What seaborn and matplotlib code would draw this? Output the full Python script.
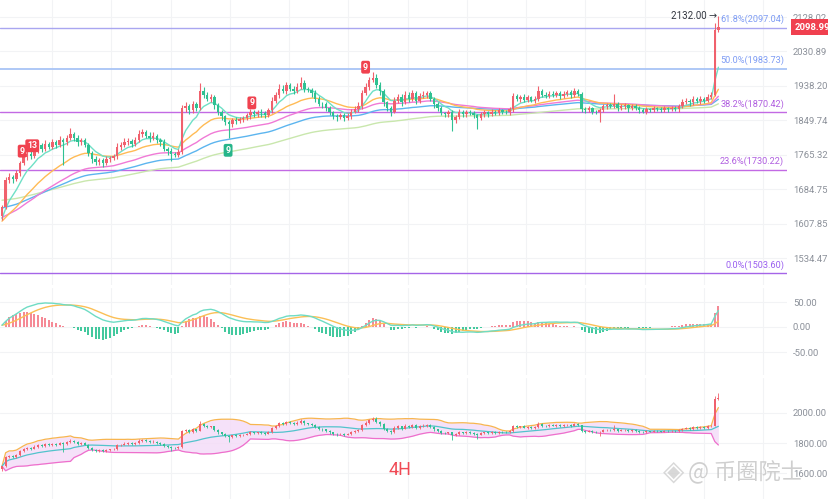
import numpy as np
import pandas as pd
import matplotlib
matplotlib.use("Agg")
import matplotlib.pyplot as plt
import seaborn as sns

# ---------------- data (4H candles) ----------------
first_open = 1625.0
closes = [
    1645, 1705, 1712, 1708, 1722, 1745, 1760, 1768, 1762, 1775,
    1788, 1780, 1792, 1785, 1795, 1790, 1800, 1795, 1805, 1815,
    1805, 1795, 1800, 1790, 1770, 1755, 1748, 1752, 1745, 1755,
    1758, 1762, 1785, 1790, 1795, 1798, 1792, 1800, 1815, 1820,
    1812, 1805, 1810, 1800, 1795, 1780, 1775, 1768, 1765, 1772,
    1880, 1885, 1875, 1890, 1882, 1925, 1915, 1905, 1910, 1888,
    1870, 1860, 1845, 1840, 1850, 1848, 1852, 1855, 1862, 1870,
    1865, 1870, 1868, 1862, 1875, 1898, 1915, 1930, 1925, 1940,
    1930, 1925, 1935, 1945, 1930, 1928, 1920, 1905, 1892, 1890,
    1880, 1870, 1860, 1858, 1862, 1855, 1860, 1872, 1878, 1885,
    1920, 1935, 1955, 1960, 1940, 1925, 1895, 1880, 1872, 1900,
    1910, 1895, 1915, 1905, 1920, 1900, 1912, 1915, 1920, 1905,
    1890, 1880, 1868, 1865, 1870, 1850, 1858, 1870, 1865, 1872,
    1868, 1862, 1855, 1865, 1870, 1866, 1872, 1868, 1875, 1872,
    1870, 1878, 1912, 1905, 1910, 1902, 1908, 1900, 1905, 1925,
    1915, 1912, 1918, 1915, 1920, 1912, 1918, 1922, 1915, 1925,
    1918, 1878, 1875, 1880, 1872, 1870, 1875, 1885, 1888, 1885,
    1890, 1882, 1885, 1888, 1880, 1885, 1882, 1875, 1872, 1878,
    1876, 1880, 1878, 1876, 1880, 1878, 1882, 1878, 1885, 1895,
    1900, 1895, 1905, 1898, 1905, 1900, 1910, 1915, 2090, 2098.99,
]
upper_wick = [
    5, 8, 10, 6, 8, 6, 10, 8, 6, 10,
    8, 6, 10, 5, 8, 6, 10, 6, 8, 15,
    6, 8, 5, 6, 4, 5, 8, 6, 5, 8,
    5, 6, 8, 6, 10, 8, 6, 8, 10, 8,
    6, 8, 10, 5, 6, 8, 5, 6, 4, 6,
    8, 10, 6, 8, 6, 20, 10, 8, 6, 5,
    6, 5, 4, 6, 5, 8, 6, 5, 6, 8,
    6, 5, 8, 5, 6, 10, 8, 12, 10, 8,
    6, 8, 10, 17, 8, 6, 5, 8, 6, 5,
    6, 5, 4, 6, 5, 6, 8, 6, 8, 10,
    8, 10, 8, 15, 10, 8, 6, 5, 6, 10,
    8, 6, 10, 6, 8, 6, 8, 10, 6, 5,
    5, 6, 5, 4, 6, 5, 6, 8, 6, 5,
    5, 6, 4, 6, 5, 4, 6, 5, 6, 4,
    5, 6, 8, 6, 5, 8, 6, 5, 6, 12,
    5, 6, 8, 6, 5, 6, 8, 6, 5, 8,
    5, 4, 6, 5, 4, 5, 6, 5, 6, 5,
    28, 5, 6, 5, 4, 5, 6, 4, 5, 6,
    4, 5, 4, 5, 6, 4, 5, 4, 6, 8,
    6, 5, 8, 5, 6, 5, 8, 6, 20, 33,
]
lower_wick = [
    10, 5, 6, 8, 5, 6, 5, 8, 6, 5,
    6, 8, 5, 6, 5, 8, 6, 55, 6, 5,
    6, 8, 5, 6, 8, 10, 8, 6, 8, 5,
    6, 5, 6, 8, 6, 5, 8, 6, 5, 6,
    6, 8, 5, 6, 8, 6, 10, 18, 6, 5,
    6, 8, 10, 6, 8, 5, 8, 6, 8, 10,
    8, 10, 8, 35, 6, 8, 5, 6, 5, 8,
    6, 8, 10, 6, 5, 6, 5, 8, 6, 8,
    6, 8, 5, 6, 8, 6, 10, 8, 6, 8,
    6, 8, 6, 10, 6, 8, 5, 6, 5, 8,
    6, 5, 8, 6, 8, 10, 8, 6, 12, 5,
    6, 10, 5, 8, 6, 10, 6, 5, 8, 6,
    8, 6, 5, 8, 6, 28, 6, 5, 8, 6,
    5, 6, 27, 5, 6, 8, 5, 6, 5, 6,
    5, 6, 8, 6, 8, 5, 6, 5, 6, 5,
    6, 5, 6, 5, 6, 8, 5, 6, 8, 5,
    5, 8, 6, 5, 6, 5, 25, 5, 6, 5,
    5, 8, 5, 6, 8, 5, 6, 8, 5, 6,
    5, 6, 5, 4, 5, 6, 5, 4, 6, 5,
    5, 8, 6, 5, 8, 6, 5, 6, 4, 5,
]

# moving averages: (span, starting value read at the left edge, colour)
ma_spans = [7, 21, 40, 60, 99]
ma_seeds = [1610, 1610, 1620, 1642, 1660]
ma_colors = ["#6fe0c6", "#ffbb55", "#f07ad6", "#5cb5ef", "#c9e7ad"]
macd_seed = 1600  # EMA12 / EMA26 level at the left edge

fib_levels = [0.618, 0.5, 0.382, 0.236, 0.0]
fib_prices = [2097.04, 1983.73, 1870.42, 1730.22, 1503.60]
fib_line_colors = ["#a9a6f0", "#a8c4f6", "#c26ae4", "#c26ae4", "#a565e8"]
fib_text_colors = ["#7e9cf4", "#7e9cf4", "#b05ee0", "#b05ee0", "#9a5ef0"]

main_ticks = [2128.02, 2030.89, 1938.20, 1849.74, 1765.32, 1684.75, 1607.85, 1534.47]
macd_ticks = [50.0, 0.0, -50.0]
boll_ticks = [2000.0, 1800.0, 1600.0]

# TD-sequential style tags: (candle index, price, text, colour)
tags = [(5.6, 1774, "9", "#f0424f"), (8.4, 1787, "13", "#f0424f"),
        (62.8, 1776, "9", "#26b58a"), (69.4, 1894, "9", "#f0424f"),
        (101.0, 1988, "9", "#f0424f")]
last_price = 2098.99
high_price = 2132.00

# ---------------- derived series ----------------
c = np.array(closes, dtype=float)
n = len(c)
o = np.concatenate([[first_open], c[:-1]])
hi = np.maximum(o, c) + np.array(upper_wick)
lo = np.minimum(o, c) - np.array(lower_wick)
idx = np.arange(n)
up = c >= o

def ema(vals, span, seed=None):
    s = pd.Series(vals if seed is None else np.concatenate([[seed], vals]))
    r = s.ewm(span=span, adjust=False).mean().to_numpy()
    return r if seed is None else r[1:]

mas = [ema(c, s, sd) for s, sd in zip(ma_spans, ma_seeds)]
macd = ema(c, 12, macd_seed) - ema(c, 26, macd_seed)
signal = ema(macd, 9)
hist = 2 * (macd - signal)
cs = pd.Series(c)
mid = cs.rolling(20, min_periods=1).mean().to_numpy()
sd = cs.rolling(20, min_periods=1).std(ddof=0).to_numpy()
ub, lb = mid + 2 * sd, mid - 2 * sd

# ---------------- figure ----------------
sns.set_theme(style="white")
plt.rcParams["font.family"] = ["Roboto", "DejaVu Sans"]
W, H = 829, 499
fig = plt.figure(figsize=(W / 100, H / 100), dpi=100)
fig.patch.set_facecolor("white")

def px_axes(top, bottom, right=787):
    return fig.add_axes([0, 1 - bottom / H, right / W, (bottom - top) / H])

ax1 = px_axes(0, 285)
ax2 = px_axes(288, 375)
ax3 = px_axes(378, 499)

STEP, X0 = 3.6, 2.0
xlim = ((0 - X0) / STEP, (787 - X0) / STEP)
vgrid = [(52 + 59.25 * k - X0) / STEP for k in range(13)]
RED, GREEN = "#f0616d", "#2fc192"
GRID = "#f2f3f5"
TICK = "#8b9099"

for ax in (ax1, ax2, ax3):
    ax.set_xlim(*xlim)
    ax.set_facecolor("white")
    for sp in ax.spines.values():
        sp.set_visible(False)
    ax.set_xticks(vgrid)
    ax.set_xticklabels([])
    ax.tick_params(axis="x", length=0)
    ax.yaxis.tick_right()
    ax.tick_params(axis="y", length=0, pad=4.2, labelsize=6.8, labelcolor=TICK)
    ax.grid(True, color=GRID, linewidth=0.8)
    ax.set_axisbelow(True)

def candles(ax, width, lw):
    cols = np.where(up, RED, GREEN)
    ax.vlines(idx, lo, hi, colors=cols, linewidth=lw, zorder=3)
    body_h = np.abs(c - o)
    body_h = np.where(body_h < 0.8, 0.8, body_h)
    ax.bar(idx, body_h, bottom=np.minimum(o, c), width=width, color=cols,
           linewidth=0, zorder=3)

# ---- main panel ----
ax1.set_yscale("log")
ax1.set_ylim(1479.4, 2177.7)
ax1.set_yticks(main_ticks)
ax1.set_yticklabels([f"{v:.2f}" for v in main_ticks])
ax1.minorticks_off()
for ma, col in zip(mas[::-1], ma_colors[::-1]):
    sns.lineplot(x=idx, y=ma, ax=ax1, color=col, linewidth=1.0, zorder=2)
candles(ax1, 0.62, 0.8)
for lvl, p, lc, tc in zip(fib_levels, fib_prices, fib_line_colors, fib_text_colors):
    ax1.axhline(p, color=lc, linewidth=1.3 if lvl == 0.5 else 1.0, zorder=1)
    ax1.annotate(f"{lvl*100:.1f}%({p:.2f})", xy=(xlim[1], p), xytext=(-2, 2.5),
                 textcoords="offset points", ha="right", va="bottom",
                 fontsize=6.6, color=tc)
for xi, p, t, col in tags:
    ax1.text(xi, p, t, fontsize=6.3, color="white", ha="center", va="center",
             fontweight="bold", zorder=5,
             bbox=dict(boxstyle="round,pad=0.22", fc=col, ec="none"))
ax1.annotate(f"{high_price:.2f} →", xy=(n - 1.4, high_price), xytext=(0, 0),
             textcoords="offset points", ha="right", va="center",
             fontsize=7, color="#333740")
ax1.annotate(f"{last_price:.2f}", xy=(xlim[1], last_price), xytext=(5.2, 0),
             textcoords="offset points", ha="left", va="center",
             fontsize=6.8, color="white", fontweight="bold", annotation_clip=False,
             bbox=dict(boxstyle="square,pad=0.35", fc="#f0404f", ec="none"))

# ---- MACD panel ----
ax2.set_ylim(-96, 78)
ax2.set_yticks(macd_ticks)
ax2.set_yticklabels([f"{v:.2f}" for v in macd_ticks])
hcols = np.where(hist >= 0, "#f58a96", "#43c99e")
ax2.bar(idx, hist, width=0.55, color=hcols, linewidth=0, zorder=2)
sns.lineplot(x=idx, y=signal, ax=ax2, color="#fbbf55", linewidth=1.0, zorder=3)
sns.lineplot(x=idx, y=macd, ax=ax2, color="#6fdcc4", linewidth=1.0, zorder=3)

# ---- Bollinger panel ----
ax3.set_ylim(1427, 2233)
ax3.set_yticks(boll_ticks)
ax3.set_yticklabels([f"{v:.2f}" for v in boll_ticks])
ax3.fill_between(idx, lb, ub, color="#f4dcf8", alpha=0.85, linewidth=0, zorder=1)
sns.lineplot(x=idx, y=ub, ax=ax3, color="#f7b54f", linewidth=0.9, zorder=2)
sns.lineplot(x=idx, y=lb, ax=ax3, color="#ee6fcc", linewidth=0.9, zorder=2)
sns.lineplot(x=idx, y=mid, ax=ax3, color="#52c3cc", linewidth=0.9, zorder=2)
candles(ax3, 0.55, 0.6)

for ax in (ax1, ax2, ax3):
    if ax.get_legend():
        ax.get_legend().remove()
    ax.set_xlabel("")
    ax.set_ylabel("")

# labels
fig.text(400 / W, 1 - 470 / H, "4H", fontsize=13, color="#f04a55",
         ha="center", va="center")
fig.text(688 / W, 1 - 472 / H, "@ 币圈院士", fontsize=16, color="#c4c4c4",
         ha="left", va="center", alpha=0.8,
         family=["Noto Sans CJK SC", "DejaVu Sans"])
fig.text(674 / W, 1 - 472 / H, "◈", fontsize=20, color="#cfcfcf",
         ha="center", va="center", alpha=0.8, family=["DejaVu Sans"])

fig.savefig("out.png", dpi=100, facecolor="white")
